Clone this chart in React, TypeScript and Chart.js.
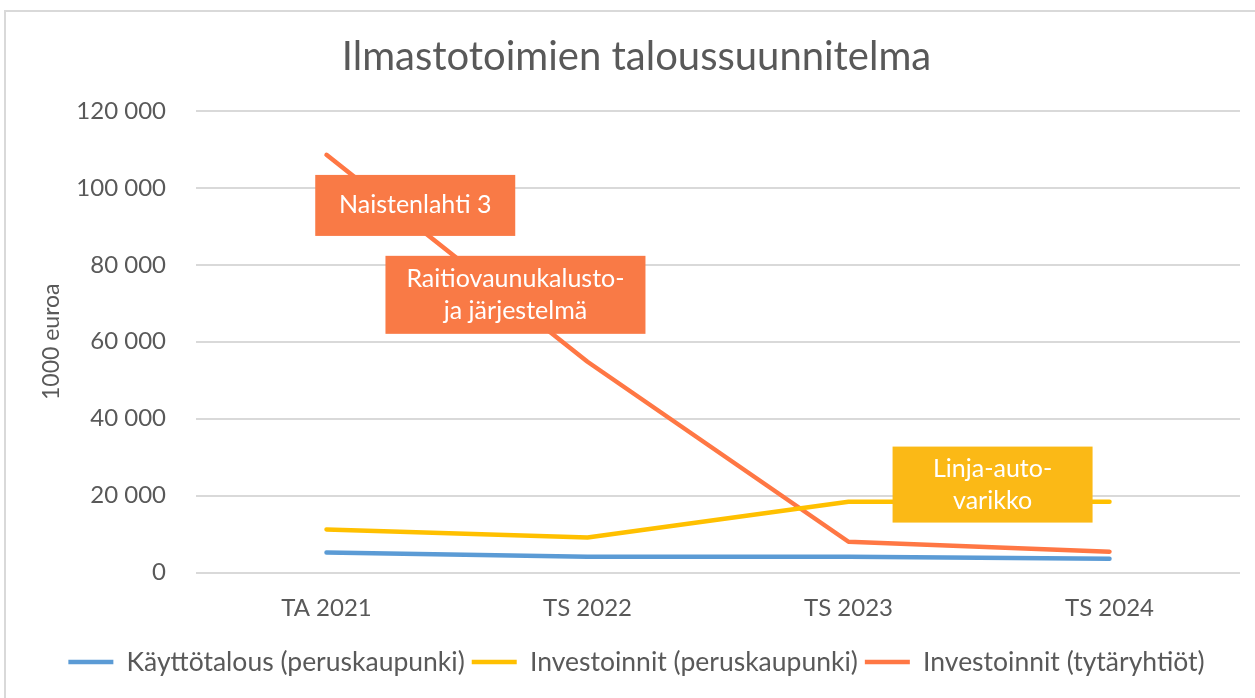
import React, { useEffect, useRef } from "react";
import { Chart, registerables } from "chart.js";

Chart.register(...registerables);

const categories = ["TA 2021", "TS 2022", "TS 2023", "TS 2024"];
const kayttotalous = [5200, 4100, 4100, 3600];
const investoinnitPerus = [11200, 9100, 18400, 18400];
const investoinnitTytar = [108600, 54800, 8000, 5400];
const yTickValues = [0, 20000, 40000, 60000, 80000, 100000, 120000];

const seriesNames = [
  "Käyttötalous (peruskaupunki)",
  "Investoinnit (peruskaupunki)",
  "Investoinnit (tytäryhtiöt)",
];

const noteTexts = [
  ["Naistenlahti 3"],
  ["Raitiovaunukalusto-", "ja järjestelmä"],
  ["Linja-auto-", "varikko"],
];
// anchor of each note in data space: category index, value
const noteCategory = [0.34, 0.724, 2.552];
const noteValue = [95450, 72200, 22860];

const FONT = "Lato, 'Open Sans', sans-serif";
const GREY = "#595959";

const fmt = (v: number) =>
  String(v).replace(/\B(?=(\d{3})+(?!\d))/g, " ");

const framePlugin = {
  id: "frame",
  beforeDraw(chart: any) {
    const { ctx } = chart;
    ctx.save();
    ctx.fillStyle = "#ffffff";
    ctx.fillRect(0, 0, chart.width, chart.height);
    ctx.strokeStyle = "#d9d9d9";
    ctx.lineWidth = 2;
    ctx.strokeRect(5, 11, chart.width + 20, chart.height + 20);
    ctx.restore();
  },
};

const noteStyle = [
  { w: 200, h: 61, bg: "#F97A46" },
  { w: 260, h: 78, bg: "#F97A46" },
  { w: 200, h: 76, bg: "#FBB916" },
];

const notePlugin = {
  id: "notes",
  afterDatasetsDraw(chart: any) {
    const { ctx, scales } = chart;
    const x = scales.x;
    const y = scales.y;
    ctx.save();
    noteTexts.forEach((lines, i) => {
      const cx = x.getPixelForValue(noteCategory[i]);
      const cy = y.getPixelForValue(noteValue[i]);
      const s = noteStyle[i];
      ctx.fillStyle = s.bg;
      ctx.fillRect(cx - s.w / 2, cy - s.h / 2, s.w, s.h);
      ctx.fillStyle = "#ffffff";
      ctx.font = `25px ${FONT}`;
      ctx.textAlign = "center";
      ctx.textBaseline = "middle";
      const lh = 32;
      const start = cy - ((lines.length - 1) * lh) / 2;
      lines.forEach((t, j) => ctx.fillText(t, cx, start + j * lh));
    });
    ctx.restore();
  },
};

export default function App() {
  const ref = useRef<HTMLCanvasElement>(null);

  useEffect(() => {
    document.body.style.margin = "0";
    const lineDs = (label: string, data: number[], color: string) => ({
      label,
      data,
      borderColor: color,
      backgroundColor: color,
      borderWidth: 4.5,
      borderCapStyle: "round" as const,
      borderJoinStyle: "round" as const,
      pointRadius: 0,
      pointHoverRadius: 0,
      tension: 0,
      fill: false,
    });

    const chart = new Chart(ref.current!, {
      type: "line",
      data: {
        labels: categories,
        datasets: [
          lineDs(seriesNames[0], kayttotalous, "#5B9BD5"),
          lineDs(seriesNames[1], investoinnitPerus, "#FFC000"),
          lineDs(seriesNames[2], investoinnitTytar, "#FF7744"),
        ],
      },
      options: {
        responsive: false,
        animation: false,
        layout: { padding: { left: 18, right: 0, top: 0, bottom: 12.75 } },
        plugins: {
          tooltip: { enabled: false },
          title: {
            display: true,
            text: "Ilmastotoimien taloussuunnitelma",
            color: GREY,
            font: { family: FONT, size: 40, weight: "normal" },
            padding: { top: 33, bottom: 30 },
          },
          legend: {
            position: "bottom",
            labels: {
              usePointStyle: true,
              pointStyle: "line",
              pointStyleWidth: 45,
              color: GREY,
              font: { family: FONT, size: 26.5 },
              padding: 7,
            },
          },
        },
        scales: {
          x: {
            type: "category",
            offset: true,
            afterFit(scale: any) {
              scale.height = 69.25;
            },
            grid: { display: false, drawTicks: false },
            border: { display: false },
            ticks: {
              color: GREY,
              font: { family: FONT, size: 24 },
              padding: 21.5,
            },
          },
          y: {
            min: 0,
            max: 120000,
            afterFit(scale: any) {
              scale.width = 178;
            },
            afterBuildTicks(scale: any) {
              scale.ticks = yTickValues.map((v) => ({ value: v }));
            },
            grid: { color: "#d9d9d9", lineWidth: 2, drawTicks: false },
            border: { display: false },
            ticks: {
              color: GREY,
              font: { family: FONT, size: 24 },
              padding: 30,
              callback: (v: any) => fmt(Number(v)),
            },
            title: {
              display: true,
              text: "1000 euroa",
              color: GREY,
              font: { family: FONT, size: 23 },
              padding: { top: 20, bottom: 0 },
            },
          },
          yRight: {
            type: "linear",
            position: "right",
            min: 0,
            max: 1,
            afterFit(scale: any) {
              scale.width = 15;
            },
            grid: { display: false, drawTicks: false },
            border: { display: false },
            ticks: { display: false },
          },
        },
      },
      plugins: [framePlugin, notePlugin],
    });
    return () => chart.destroy();
  }, []);

  return (
    <div style={{ position: "absolute", left: 0, top: 0, width: 1255, height: 698 }}>
      <canvas ref={ref} width={1255} height={698} />
    </div>
  );
}
